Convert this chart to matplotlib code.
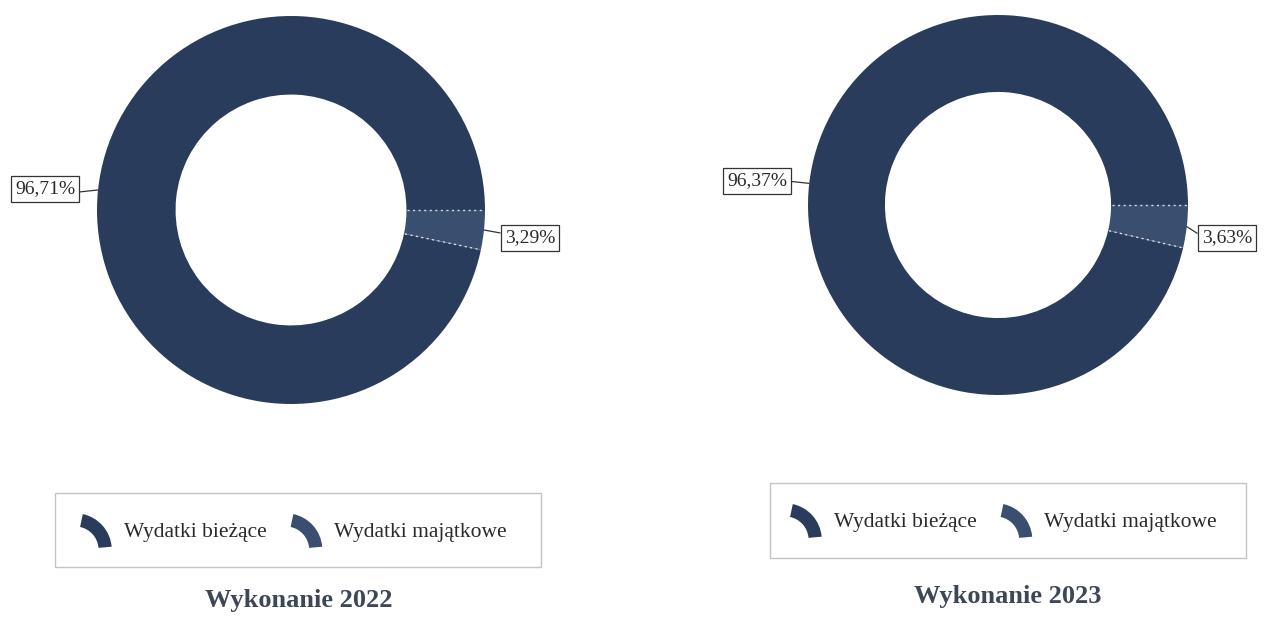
import matplotlib.pyplot as plt
import numpy as np
from matplotlib.patches import Wedge, Rectangle
from matplotlib.legend_handler import HandlerPatch

# Data:

categories = ["Wydatki bieżące", "Wydatki majątkowe"]
shares_2022 = [96.71, 3.29]
shares_2023 = [96.37, 3.63]
titles = ["Wykonanie 2022", "Wykonanie 2023"]

colors = ["#2a3c5c", "#3a4f70"]
SERIF = ["Liberation Serif", "DejaVu Serif"]

W, H = 1268, 617


def px(x, y):
	# pixel position (from top-left) -> figure pixels (from bottom-left)
	return (x, H - y)


class ArcHandler(HandlerPatch):
	# legend key drawn as a piece of the ring
	def create_artists(self, legend, orig_handle, xdescent, ydescent,
			width, height, fontsize, trans):
		r = width * 1.0
		w = Wedge((-xdescent, -ydescent - 0.3 * height), r, 5, 78,
			width=r * 0.36, facecolor=orig_handle.get_facecolor(), edgecolor="none",
			transform=trans)
		return [w]


def donut(center, radius, shares, labels, legend_box, legend_center, title_px, title):
	cx, cy = center
	ax = fig.add_axes([(cx - radius) / W, (H - cy - radius) / H, 2 * radius / W, 2 * radius / H])
	ax.pie(shares, colors=colors, startangle=0, counterclock=True,
		radius=1.0, wedgeprops=dict(width=0.405, edgecolor="none"))
	ax.set_xlim(-1, 1)
	ax.set_ylim(-1, 1)
	ax.set_aspect("equal")

	# dotted white separators at the edges of the small slice
	for a in [0.0, -shares[1] / 100 * 360]:
		t = np.radians(a)
		ax.plot([0.6 * np.cos(t), 0.995 * np.cos(t)], [0.6 * np.sin(t), 0.995 * np.sin(t)],
			color="white", lw=1.0, ls=(0, (1.5, 2.5)), alpha=0.8)

	# labels with leader lines
	start = 0.0
	for v, (lx, ly, rel) in zip(shares, labels):
		mid = start + v / 100 * 360 / 2
		start += v / 100 * 360
		t = np.radians(mid)
		txt = ("%.2f%%" % v).replace(".", ",")
		ax.annotate(txt, xy=(np.cos(t), np.sin(t)), xycoords="data",
			xytext=px(lx, ly), textcoords="figure pixels",
			ha="center", va="center", fontsize=14, family=SERIF, color="#2a2a2a",
			bbox=dict(boxstyle="square,pad=0.22", fc="white", ec="#333333", lw=0.9),
			arrowprops=dict(arrowstyle="-", color="#333333", lw=0.9,
				shrinkA=0, shrinkB=0, relpos=rel))

	# legend frame and legend
	bx, by, bw, bh = legend_box
	fig.patches.append(Rectangle((bx / W, (H - by - bh) / H), bw / W, bh / H,
		transform=fig.transFigure, fc="white", ec="#c4c4c4", lw=1.0, zorder=0))
	handles = [plt.Rectangle((0, 0), 1, 1, facecolor=c) for c in colors]
	fig.legend(handles, categories, loc="center",
		bbox_to_anchor=(legend_center[0] / W, 1 - legend_center[1] / H),
		ncol=2, frameon=False, prop=dict(family=SERIF, size=15.5),
		handlelength=1.7, handleheight=1.4, handletextpad=0.55, columnspacing=0.9,
		handler_map={plt.Rectangle: ArcHandler()}, labelcolor="#2a2a2a")

	fig.text(title_px[0] / W, 1 - title_px[1] / H, title, ha="center", va="center",
		fontsize=19, family=SERIF, fontweight="bold", color="#3d4756")


fig = plt.figure(figsize=(W / 100, H / 100), dpi=100)

donut((291, 210), 194, shares_2022,
	[(45, 189, (1, 0.3)), (530, 238, (0, 0.75))],
	(55, 493, 486, 74), (291, 530), (299, 600), titles[0])
donut((998, 205), 190, shares_2023,
	[(757, 181, (1, 0.5)), (1227, 238, (0, 0.6))],
	(770, 483, 476, 75), (1001, 520), (1008, 597), titles[1])

plt.savefig("out.png", dpi=100)
